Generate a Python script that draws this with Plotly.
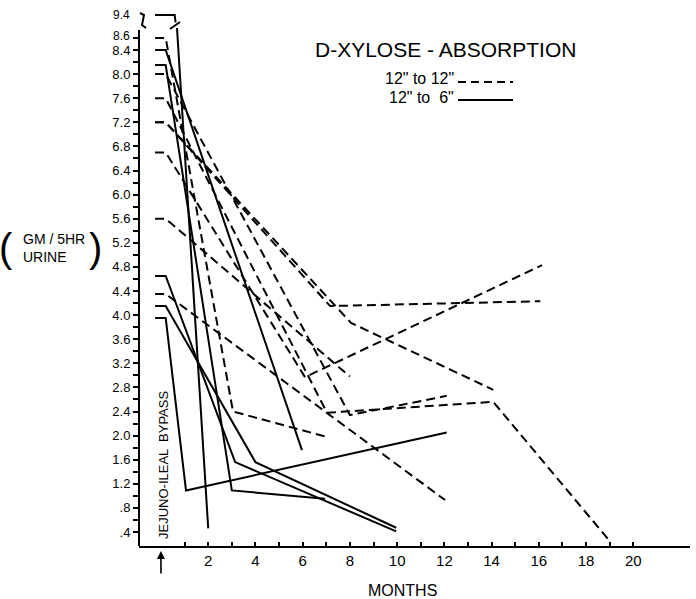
import plotly.graph_objects as go

# ---------------- data ----------------
# pre-operative D-xylose value of each patient (GM/5HR urine)
pre_op = [9.4, 8.6, 8.4, 8.15, 8.0, 7.6, 7.2, 7.2, 6.7, 5.6, 4.35, 4.65, 4.15, 3.95]
# bypass type: "12-12" = 12" to 12" (dashed), "12-6" = 12" to 6" (solid)
bypass = ["12-6", "12-12", "12-6", "12-6", "12-12", "12-12", "12-12", "12-12",
          "12-12", "12-12", "12-12", "12-6", "12-6", "12-6"]
# follow-up months and values after the bypass
follow_months = [
    [2.0],
    [3.05, 7.0],
    [5.97],
    [3.0, 6.95],
    [8.0, 12.1],
    [7.03, 14.07, 19.0],
    [8.05, 14.07],
    [7.16, 16.06],
    [6.1, 16.14],
    [8.0],
    [12.03],
    [3.14, 9.96],
    [4.0, 9.96],
    [1.06, 12.1],
]
follow_values = [
    [0.46],
    [2.40, 1.98],
    [1.76],
    [1.09, 0.95],
    [2.34, 2.66],
    [2.38, 2.56, 0.25],
    [3.87, 2.76],
    [4.15, 4.23],
    [2.97, 4.83],
    [2.98],
    [0.93],
    [1.56, 0.41],
    [1.56, 0.47],
    [1.09, 2.05],
]
pre_op_span = [-0.25, 0.2]          # months over which the pre-op value is drawn
y_major = [0.4, 0.8, 1.2, 1.6, 2.0, 2.4, 2.8, 3.2, 3.6, 4.0, 4.4, 4.8, 5.2, 5.6,
           6.0, 6.4, 6.8, 7.2, 7.6, 8.0, 8.4]
y_labels = [".4", ".8", "1.2", "1.6", "2.0", "2.4", "2.8", "3.2", "3.6", "4.0", "4.4",
            "4.8", "5.2", "5.6", "6.0", "6.4", "6.8", "7.2", "7.6", "8.0", "8.4"]
y_minor = [0.6, 1.0, 1.4, 1.8, 2.2, 2.6, 3.0, 3.4, 3.8, 4.2, 4.6, 5.0, 5.4, 5.8,
           6.2, 6.6, 7.0, 7.4, 7.8, 8.2, 8.6]
x_major = [2, 4, 6, 8, 10, 12, 14, 16, 18, 20]
x_minor = [1, 3, 5, 7, 9, 11, 13, 15, 17, 19]
top_label = 8.6
broken_label = 9.4

# ---------------- layout helpers ----------------
W, H = 696, 599
L, R, T, B = 139, 690, 5, 546
BREAK_AT = 8.6
BREAK_SCALE = 0.475


def disp(v):
    return v if v <= BREAK_AT else BREAK_AT + (v - BREAK_AT) * BREAK_SCALE


def px_x(px):
    return (px - L) / (R - L)


def px_y(py):
    return (B - py) / (B - T)


FONT = "Liberation Sans"
DASH = "9px,5px"

fig = go.Figure()

for pv, kind, fm, fv in zip(pre_op, bypass, follow_months, follow_values):
    dash = DASH if kind == "12-12" else "solid"
    if pv > BREAK_AT:
        # broken (off-scale) value: horizontal stub, gap, then the line resumes
        xs = [pre_op_span[0], 0.58, 0.62, None, 0.68] + fm
        ys = [disp(pv), disp(pv), disp(pv) - 0.12, None, 8.765] + fv
    else:
        xs = pre_op_span + fm
        ys = [pv, pv] + fv
    fig.add_trace(go.Scatter(x=xs, y=ys, mode="lines", showlegend=False,
                             line=dict(color="black", width=2, dash=dash),
                             hoverinfo="skip", connectgaps=False))

shapes = []
# y axis line (stops below the break)
shapes.append(dict(type="line", xref="paper", yref="y", x0=0, x1=0,
                   y0=0.1676, y1=8.73, line=dict(color="black", width=2)))
# axis break mark near the 9.4 label
shapes.append(dict(type="path", xref="paper", yref="paper",
                   path=f"M {px_x(140)} {px_y(13)} L {px_x(144)} {px_y(15)} "
                        f"L {px_x(142)} {px_y(25)} L {px_x(146)} {px_y(28)}",
                   line=dict(color="black", width=2)))
# slash marks on the off-scale line
shapes.append(dict(type="line", xref="paper", yref="paper",
                   x0=px_x(170), y0=px_y(29), x1=px_x(180), y1=px_y(22),
                   line=dict(color="black", width=2)))
# legend samples
shapes.append(dict(type="line", xref="paper", yref="paper",
                   x0=px_x(458), y0=px_y(82), x1=px_x(513), y1=px_y(82),
                   line=dict(color="black", width=2, dash="8px,5px")))
shapes.append(dict(type="line", xref="paper", yref="paper",
                   x0=px_x(458), y0=px_y(100), x1=px_x(513), y1=px_y(100),
                   line=dict(color="black", width=2)))


def note(text, px, py, size, xanchor="center", **kw):
    return dict(text=text, xref="paper", yref="paper", x=px_x(px), y=px_y(py),
                xanchor=xanchor, yanchor="middle", showarrow=False,
                font=dict(family=FONT, size=size, color="black"), **kw)


def ylabel(value, shift=0):
    return dict(text=str(value), xref="paper", yref="y", x=0, y=disp(value),
                xanchor="right", yanchor="middle", xshift=-7, yshift=shift,
                showarrow=False, font=dict(family=FONT, size=12, color="black"))


ann = [
    note("D-XYLOSE - ABSORPTION", 445, 49, 21),
    note('12" to 12"', 456, 78, 16, xanchor="right"),
    note('12" to  6"', 456, 97, 16, xanchor="right"),
    note("GM / 5HR<br>URINE", 21, 248, 14, xanchor="left", align="left"),
    note("(", 6, 248, 40),
    note(")", 95, 248, 40),
    note("JEJUNO-ILEAL  BYPASS", 163, 465, 13, textangle=-90),
    note("MONTHS", 402, 590, 16),
    ylabel(top_label, shift=2),
    ylabel(broken_label),
    dict(text="", xref="x", yref="paper", x=0, y=px_y(551), ax=0, ay=24,
         showarrow=True, arrowhead=2, arrowsize=1, arrowwidth=1.6, arrowcolor="black"),
]

fig.update_layout(
    width=W, height=H,
    margin=dict(l=L, r=W - R, t=T, b=H - B),
    paper_bgcolor="white", plot_bgcolor="white",
    shapes=shapes, annotations=ann,
    xaxis=dict(range=[-0.93, 22.4], tickmode="array", tickvals=x_major,
               ticktext=[str(v) for v in x_major], ticks="inside", ticklen=4,
               tickwidth=1.5, tickcolor="black", showline=True, linewidth=2,
               linecolor="black", showgrid=False, zeroline=False,
               tickfont=dict(family=FONT, size=15, color="black"),
               minor=dict(tickmode="array", tickvals=x_minor, ticks="inside",
                          ticklen=4, tickwidth=1.5, tickcolor="black", showgrid=False)),
    yaxis=dict(range=[0.1676, 9.147], tickmode="array", tickvals=y_major,
               ticktext=y_labels, ticks="outside", ticklen=5, tickwidth=1.5,
               tickcolor="black", showline=False, showgrid=False, zeroline=False,
               tickfont=dict(family=FONT, size=13, color="black"),
               minor=dict(tickmode="array", tickvals=y_minor, ticks="outside",
                          ticklen=5, tickwidth=1.5, tickcolor="black", showgrid=False)),
)

fig.write_html("out.html")
